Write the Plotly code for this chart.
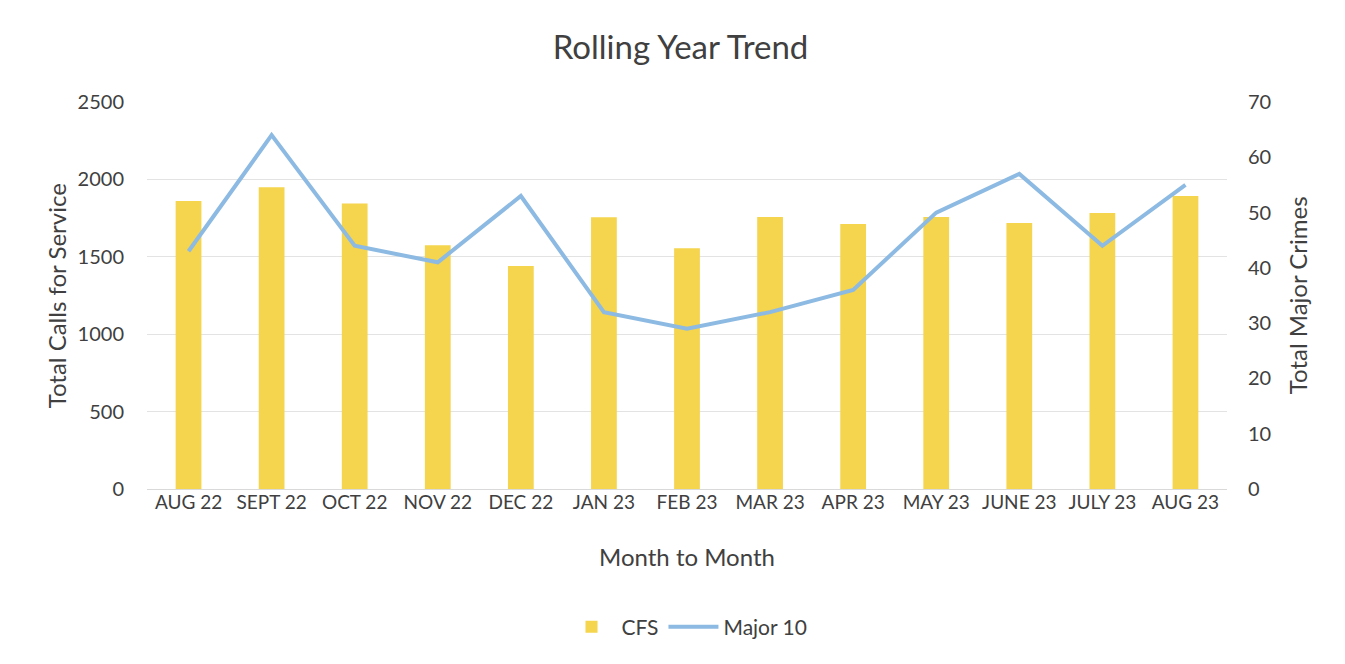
import plotly.graph_objects as go

months = ["AUG 22", "SEPT 22", "OCT 22", "NOV 22", "DEC 22", "JAN 23", "FEB 23",
          "MAR 23", "APR 23", "MAY 23", "JUNE 23", "JULY 23", "AUG 23"]
cfs = [1860, 1950, 1845, 1575, 1440, 1755, 1555, 1757, 1712, 1757, 1718, 1783, 1893]
major10 = [43, 64, 44, 41, 53, 32, 29, 32, 36, 50, 57, 44, 55]

FONT = "Lato, Carlito, Calibri, sans-serif"
TXT = "#404040"

fig = go.Figure()
fig.add_trace(go.Bar(x=months, y=cfs, name="CFS", marker=dict(color="#F5D44E", line=dict(width=0)),
                     yaxis="y"))
fig.add_trace(go.Scatter(x=months, y=major10, name="Major 10", mode="lines",
                         line=dict(color="#8DBAE2", width=4), yaxis="y2"))

fig.update_layout(
    width=1345, height=664,
    paper_bgcolor="white", plot_bgcolor="white",
    font=dict(family=FONT, color=TXT, size=19),
    margin=dict(l=139, r=126, t=94, b=183),
    bargap=0.69,
    title=dict(text="Rolling Year Trend", x=0.5, xanchor="center", y=0.94, yanchor="middle",
               font=dict(size=33, color=TXT, family=FONT)),
    xaxis=dict(showgrid=False, showline=False, ticks="", tickfont=dict(size=19, color=TXT)),
    yaxis=dict(range=[0, 2500], dtick=500, showgrid=True, gridcolor="#E3E3E3", gridwidth=1,
               zeroline=True, zerolinecolor="#D9D9D9", zerolinewidth=1, showline=False,
               tickfont=dict(size=20, color=TXT), ticklabelstandoff=22),
    yaxis2=dict(range=[0, 70], dtick=10, overlaying="y", side="right", showgrid=False,
                zeroline=False, showline=False, tickfont=dict(size=20, color=TXT),
                ticklabelstandoff=20),
    legend=dict(orientation="h", x=0.5, xanchor="center", y=-0.357, yanchor="middle",
                font=dict(size=21, color=TXT), itemwidth=50, tracegroupgap=30),
    showlegend=True,
)

fig.add_annotation(text="Total Calls for Service", xref="paper", yref="paper",
                   x=-0.0835, y=0.5, textangle=-90, showarrow=False,
                   font=dict(size=24, color=TXT), xanchor="center", yanchor="middle")
fig.add_annotation(text="Total Major Crimes", xref="paper", yref="paper",
                   x=1.0655, y=0.5, textangle=-90, showarrow=False,
                   font=dict(size=24, color=TXT), xanchor="center", yanchor="middle")
fig.add_annotation(text="Month to Month", xref="paper", yref="paper",
                   x=0.5, y=-0.1757, showarrow=False,
                   font=dict(size=24, color=TXT), xanchor="center", yanchor="middle")

fig.write_html("out.html")
